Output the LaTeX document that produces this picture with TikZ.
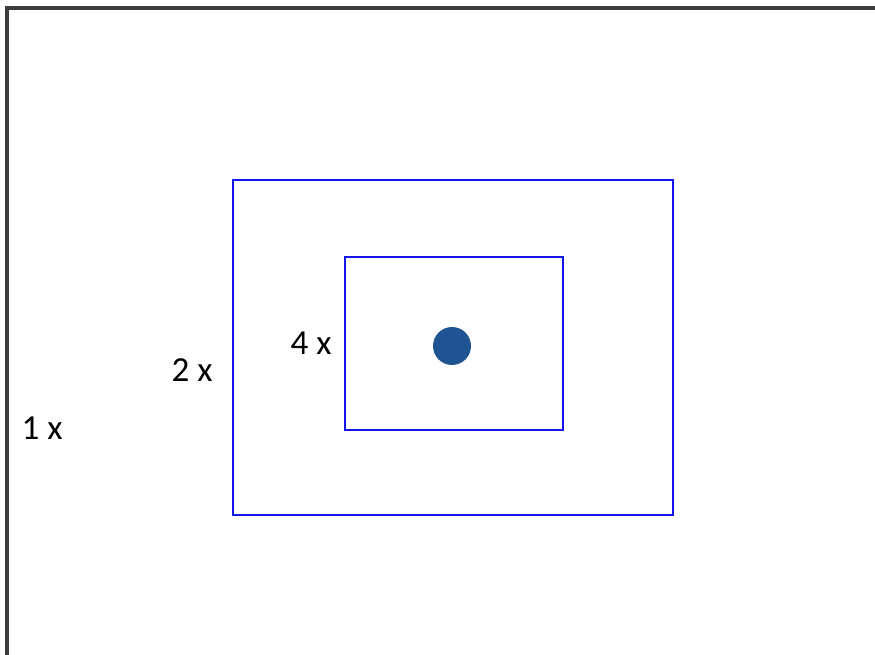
\documentclass[tikz,border=0pt]{standalone}
\usepackage{fontspec}
\setmainfont{Carlito}
\usetikzlibrary{positioning}
\definecolor{framecolor}{RGB}{60,60,60}
\definecolor{boxcolor}{RGB}{20,20,240}
\definecolor{dotcolor}{RGB}{30,84,145}
\tikzset{
  frameln/.style={line width=1.9pt, framecolor},
  boxln/.style={line width=1.2pt, boxcolor},
  zoomlbl/.style={font=\fontsize{20}{22}\selectfont, text=black, inner sep=0pt},
}
\begin{document}
\begin{tikzpicture}[x=0.02cm, y=-0.02cm]
    \useasboundingbox (0,0) rectangle (875,655);
    % Outer frame (cut off at right and bottom)
    \begin{scope}
      \clip (0,0) rectangle (875,655);
      \draw[frameln] (7,8) rectangle (890,670);
    \end{scope}
    % Boxes
    \draw[boxln] (233,180) rectangle (673,515);
    \draw[boxln] (345,257) rectangle (563,430);
    % Centre point
    \fill[dotcolor] (452,346) circle (19);
    % Labels
    \node[zoomlbl] (one) at (42,428) {1 x};
    \node[zoomlbl] (two) at (192,370) {2 x};
    \node[zoomlbl] (four) at (311,343) {4 x};
\end{tikzpicture}
\end{document}
